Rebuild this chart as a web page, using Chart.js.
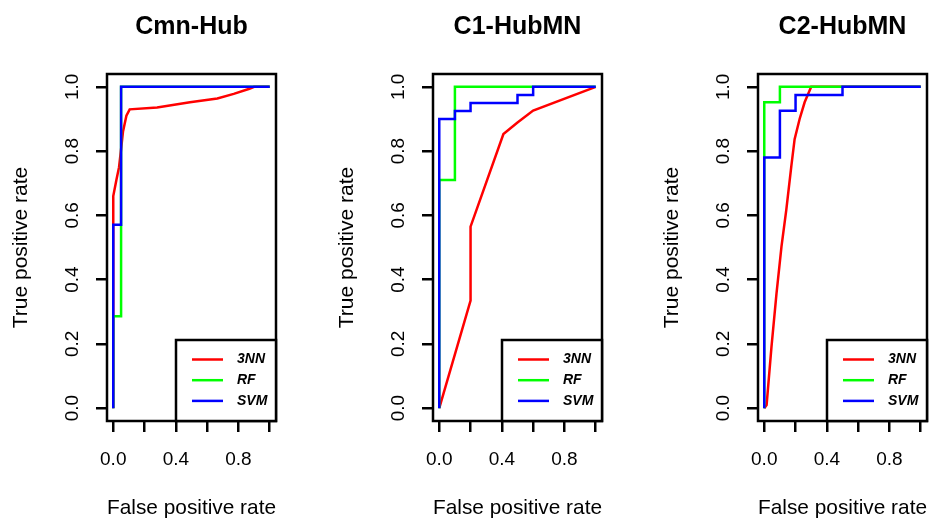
<!DOCTYPE html>
<html>
<head>
<meta charset="utf-8">
<script src="https://cdn.jsdelivr.net/npm/chart.js@4.4.1/dist/chart.umd.min.js"></script>
<style>
html, body { margin: 0; padding: 0; overflow: hidden; background: #fff; }
#wrap { position: relative; width: 929px; height: 519px; overflow: hidden; background: #fff; }
canvas { position: absolute; top: 0; }
</style>
</head>
<body>
<div id="wrap">
<canvas id="c_cmn" width="300" height="519" style="left:0px"></canvas>
<canvas id="c_c1" width="300" height="519" style="left:326px"></canvas>
<canvas id="c_c2" width="300" height="519" style="left:651px"></canvas>
</div>
<script>
const titles = ['Cmn-Hub', 'C1-HubMN', 'C2-HubMN'];
const methods = ['3NN', 'RF', 'SVM'];
const colors = ['#ff0000', '#00ff00', '#0000ff'];
const fprTicks = [0, 0.2, 0.4, 0.6, 0.8, 1];
const fprLabels = ['0.0', '', '0.4', '', '0.8', ''];
const tprTicks = [0, 0.2, 0.4, 0.6, 0.8, 1];
const tprLabels = ['0.0', '0.2', '0.4', '0.6', '0.8', '1.0'];

// Cmn-Hub
const cmn_knn_fpr = [0, 0, 0, 0.02, 0.037, 0.052, 0.062, 0.084, 0.105, 0.28, 0.49, 0.665, 0.77, 0.87, 0.9, 1];
const cmn_knn_tpr = [0, 0.57, 0.66, 0.71, 0.75, 0.815, 0.86, 0.91, 0.93, 0.936, 0.952, 0.964, 0.978, 0.994, 1, 1];
const cmn_rf_fpr = [0, 0, 0.05, 0.05, 1];
const cmn_rf_tpr = [0, 0.286, 0.286, 1, 1];
const cmn_svm_fpr = [0, 0, 0.05, 0.05, 1];
const cmn_svm_tpr = [0, 0.571, 0.571, 1, 1];

// C1-HubMN
const c1_knn_fpr = [0, 0.2, 0.2, 0.41, 0.5, 0.6, 1];
const c1_knn_tpr = [0, 0.335, 0.565, 0.853, 0.889, 0.926, 1];
const c1_rf_fpr = [0, 0, 0.1, 0.1, 1];
const c1_rf_tpr = [0, 0.71, 0.71, 1, 1];
const c1_svm_fpr = [0, 0, 0.1, 0.1, 0.2, 0.2, 0.5, 0.5, 0.6, 0.6, 1];
const c1_svm_tpr = [0, 0.9, 0.9, 0.925, 0.925, 0.95, 0.95, 0.975, 0.975, 1, 1];

// C2-HubMN
const c2_knn_fpr = [0, 0.015, 0.046, 0.078, 0.11, 0.141, 0.173, 0.194, 0.226, 0.258, 0.3, 1];
const c2_knn_tpr = [0, 0.01, 0.19, 0.356, 0.503, 0.618, 0.753, 0.837, 0.9, 0.952, 1, 1];
const c2_rf_fpr = [0, 0, 0.1, 0.1, 1];
const c2_rf_tpr = [0, 0.952, 0.952, 1, 1];
const c2_svm_fpr = [0, 0, 0.1, 0.1, 0.2, 0.2, 0.5, 0.5, 1];
const c2_svm_tpr = [0, 0.78, 0.78, 0.926, 0.926, 0.975, 0.975, 1, 1];

const fontFamily = '"Liberation Sans", Arial, sans-serif';

// plot box + legend in the bottom right corner, like R's legend("bottomright")
const boxLegend = {
    id: 'boxLegend',
    afterDraw(chart) {
        const ctx = chart.ctx;
        const a = chart.chartArea;
        ctx.save();
        ctx.strokeStyle = '#000';
        ctx.lineWidth = 2.5;
        ctx.strokeRect(a.left, a.top, a.right - a.left, a.bottom - a.top);
        const lx = a.left + 69;
        const ly = a.bottom - 81;
        ctx.fillStyle = '#fff';
        ctx.fillRect(lx, ly, a.right - lx, a.bottom - ly);
        ctx.strokeRect(lx, ly, a.right - lx, a.bottom - ly);
        ctx.font = 'italic bold 14px ' + fontFamily;
        ctx.textBaseline = 'middle';
        chart.data.datasets.forEach((ds, i) => {
            const yy = ly + 19.5 + i * 20.7;
            ctx.strokeStyle = ds.borderColor;
            ctx.lineWidth = 2.5;
            ctx.beginPath();
            ctx.moveTo(lx + 16, yy);
            ctx.lineTo(lx + 47, yy);
            ctx.stroke();
            ctx.fillStyle = '#000';
            ctx.fillText(ds.label, lx + 61, yy);
        });
        ctx.restore();
    }
};

function axisGrid() {
    return {
        drawOnChartArea: false,
        drawTicks: true,
        tickLength: 11,
        tickWidth: 2.5,
        tickColor: '#000',
        lineWidth: 2.5,
        color: '#000'
    };
}

function rocChart(canvas, title, fpr, tpr) {
    return new Chart(canvas, {
        type: 'line',
        data: {
            datasets: methods.map((m, i) => ({
                label: m,
                data: fpr[i].map((x, j) => ({ x: x, y: tpr[i][j] })),
                borderColor: colors[i],
                borderWidth: 2.5,
                pointRadius: 0,
                tension: 0,
                fill: false,
                order: 3 - i
            }))
        },
        options: {
            responsive: false,
            animation: false,
            devicePixelRatio: 1,
            layout: { padding: { left: 0, right: 24, top: 0, bottom: 0 } },
            plugins: {
                legend: { display: false },
                tooltip: { enabled: false },
                title: {
                    display: true,
                    fullSize: false,
                    text: title,
                    color: '#000',
                    font: { family: fontFamily, size: 25, weight: 'bold', lineHeight: 1.2 },
                    padding: { top: 12, bottom: 32 }
                }
            },
            scales: {
                x: {
                    type: 'linear',
                    min: -0.04,
                    max: 1.04,
                    afterBuildTicks: (s) => { s.ticks = fprTicks.map(v => ({ value: v })); },
                    afterFit: (s) => { s.height = 98; },
                    grid: axisGrid(),
                    border: { display: false },
                    ticks: {
                        autoSkip: false,
                        minRotation: 0,
                        maxRotation: 0,
                        padding: 16,
                        color: '#000',
                        font: { family: fontFamily, size: 19, lineHeight: 1.2 },
                        callback: (v) => fprLabels[fprTicks.indexOf(v)]
                    },
                    title: {
                        display: true,
                        text: 'False positive rate',
                        color: '#000',
                        font: { family: fontFamily, size: 21, lineHeight: 1 },
                        padding: { top: 0, bottom: 0 }
                    }
                },
                y: {
                    type: 'linear',
                    min: -0.04,
                    max: 1.04,
                    afterBuildTicks: (s) => { s.ticks = tprTicks.map(v => ({ value: v })); },
                    afterFit: (s) => { s.width = 107; },
                    grid: axisGrid(),
                    border: { display: false },
                    ticks: {
                        autoSkip: false,
                        minRotation: 90,
                        maxRotation: 90,
                        crossAlign: 'center',
                        padding: 10,
                        color: '#000',
                        font: { family: fontFamily, size: 19, lineHeight: 1.2 },
                        callback: (v) => tprLabels[tprTicks.indexOf(v)]
                    },
                    title: {
                        display: true,
                        text: 'True positive rate',
                        color: '#000',
                        font: { family: fontFamily, size: 21, lineHeight: 1 },
                        padding: { top: 11, bottom: 0 }
                    }
                }
            }
        },
        plugins: [boxLegend]
    });
}

var chart_cmn = rocChart(document.getElementById('c_cmn'), titles[0],
    [cmn_knn_fpr, cmn_rf_fpr, cmn_svm_fpr], [cmn_knn_tpr, cmn_rf_tpr, cmn_svm_tpr]);
var chart_c1 = rocChart(document.getElementById('c_c1'), titles[1],
    [c1_knn_fpr, c1_rf_fpr, c1_svm_fpr], [c1_knn_tpr, c1_rf_tpr, c1_svm_tpr]);
var chart_c2 = rocChart(document.getElementById('c_c2'), titles[2],
    [c2_knn_fpr, c2_rf_fpr, c2_svm_fpr], [c2_knn_tpr, c2_rf_tpr, c2_svm_tpr]);
</script>
</body>
</html>
